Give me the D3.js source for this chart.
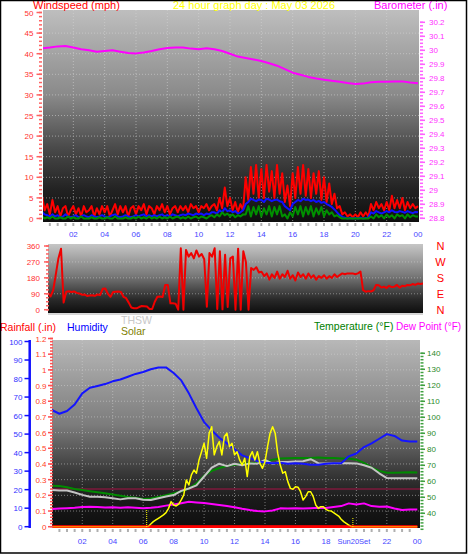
<!DOCTYPE html>
<html><head><meta charset="utf-8">
<script src="https://cdn.jsdelivr.net/npm/d3@7"></script>
<style>
body{margin:0;background:#fff}
svg{display:block}
text{font-family:"Liberation Sans",Arial,sans-serif}
</style>
</head><body>
<svg id="c" width="468" height="555"></svg>
<script>
// ---------------- DATA ----------------
const hourTicks = [2,4,6,8,10,12,14,16,18,20,22,24];
const hourLabels = ["02","04","06","08","10","12","14","16","18","20","22","00"];
const windTicks = [0,5,10,15,20,25,30,35,40,45,50];
const baroTicks = [28.8,28.9,29.0,29.1,29.2,29.3,29.4,29.5,29.6,29.7,29.8,29.9,30.0,30.1,30.2];
const dirTicks = [0,90,180,270,360];
const compassLabels = ["N","E","S","W","N"];
const humTicks = [0,10,20,30,40,50,60,70,80,90,100];
const rainTicks = [0,0.1,0.2,0.3,0.4,0.5,0.6,0.7,0.8,0.9,1.0,1.1,1.2];
const tempTicks = [40,50,60,70,80,90,100,110,120,130,140];
const sunriseHour = 6.23;
const sunsetHour = 19.77;
const refLineTemp = 55.2;

// 10-minute series (145 points, 00:00 .. 24:00)
const windGust = [
 5.5,2,3.5,1,4.5,1.5, 3,0.5,2.5,3,0.5,2, 3,1,2.5,0.5,3,1.5, 2,3,0.5,2.5,1,3,
 1.5,3,0.5,2,3.5,1, 3,1.5,3,0.5,2.5,3, 1,3,2,3.5,1,3, 2.5,1,3,2,3.5,1.5,
 3,1,2.5,3,1.5,3, 2,3,1.5,3.5,2.5,3, 1.5,3,2.5,3.5,2,3, 3.5,2,5,2.5,7.5,3,
 5,2,4,1.5,3.5,2, 10,4.5,12.5,6,13,5, 12,5,13,6.5,11.5,5, 13,6,11,4,8,3,
 11,5,12.5,6,13,5.5, 12,5,11,6,11.5,4.5, 10,4,8.5,3.5,6,2.5, 3,1,1.5,0.5,1,0.3,
 1,0.3,1.5,0.5,1.5,0.5, 3.5,2,4,2.5,3.5,2, 4,2,5.5,2.5,4.5,2.5, 5,2,4,2.5,3.5,2.5, 3];
const windAvg = [
 1.5,1,0.8,0.5,1,0.5, 0.8,0.3,0.5,1,0.5,0.3, 0.5,0.8,0.3,0.5,0.8,0.5, 0.3,0.8,0.5,0.3,0.5,0.8,
 0.5,0.3,0.5,0.8,1,0.5, 0.3,0.5,0.8,0.5,0.3,0.5, 0.8,0.5,0.8,1,0.5,0.8, 0.5,0.8,0.5,0.8,1,0.5,
 0.8,0.5,1,0.8,0.5,0.8, 1,0.8,1.2,1,0.8,1.2, 1,1.2,0.8,1.2,1,1.5, 1.5,1.2,2,1.5,2.5,1.8,
 2,1.5,1.8,1.2,1.5,2, 3.5,4,4.8,4.5,4.2,4.6, 4.5,4,4.8,4.6,4.2,4.5, 4.6,4.2,4,3,2.5,2,
 3.5,4,4.5,4.2,4.8,4.5, 4.6,4.2,4.5,4,4.3,3.8, 4,3.5,3.2,2.8,2.2,1.5, 0.8,0.4,0.2,0,0.1,0,
 0.1,0,0.2,0,0.1,0.2, 1.5,1.2,1.8,1.5,1.2,1.5, 1.8,1.5,2,1.6,1.5,1.8, 1.6,1.4,1.8,1.5,1.3,1.6, 1.5];
const windLow = [
 0.5,0,0.3,0,0.5,0, 0,0.3,0,0,0.5,0, 0.3,0,0,0.5,0,0, 0,0.3,0,0,0.3,0,
 0,0.3,0,0,0.5,0, 0,0,0.3,0,0,0.3, 0,0.5,0,0.3,0,0.5, 0,0.3,0,0.5,0,0.3,
 0,0.5,0,0.3,0.5,0, 0.3,0,0.5,0,0.3,0.5, 0,0.5,0.3,0,0.5,0.8, 0.3,1,0.5,1.5,0.8,1.2,
 0.5,1,0.3,0.8,0.5,1, 1,3,0.5,2.8,1,3, 0.5,2.5,1,3,0.5,2.8, 1,3,0.5,1,0,1.5,
 0.5,2.8,1,3,0.5,2.8, 1,3,0.5,2.5,1,2.8, 0.5,2,1,1.5,0.5,0.8, 0.3,0,0,0,0,0,
 0,0,0,0,0,0, 0.5,0,1,0.3,0.8,0, 1,0.3,0.8,0,1,0.5, 0.8,0,1,0.3,0.8,0.5, 0.5];
const windDir = [
 95,75,110,200,290,345, 40,102,104,100,103,95, 92,85,86,78,80,82, 78,86,83,118,120,90,
 73,100,102,103,100,73, 65,40,12,8,8,15, 21,20,18,4,4,45, 73,75,72,140,140,36,
 36,34,0,347,0,338, 300,320,290,335,300,315, 285,17,320,300,347,4, 330,2,310,15,290,300,
 0,345,0,330,270,0, 235,225,240,210,215,190, 205,170,200,180,215,175, 200,185,220,175,195,165,
 210,185,200,175,205,180, 195,170,190,180,195,175, 190,180,200,185,195,205, 200,205,205,205,200,205,
 215,110,102,105,103,110, 140,138,125,130,122,135, 128,130,140,125,135,132, 140,138,145,140,148,145, 148];
const solar = [
 0,0,0,0,0,0, 0,0,0,0,0,0, 0,0,0,0,0,0, 0,0,0,0,0,0,
 0,0,0,0,0,0, 0,0,0,0,0,0, 0,0,1,14,27,36, 45,54,63,75,98,134,
 116,111,121,143,170,250, 223,277,303,286,357,401, 446,366,500,535,384,428, 455,384,482,500,428,446,
 384,401,357,330,366,268, 375,401,357,401,339,312, 348,428,500,535,500,393, 330,286,294,241,205,200,
 214,211,187,143,161,187, 187,161,116,98,107,107, 93,86,84,75,66,57, 40,27,18,9,0,0,
 0,0,0,0,0,0, 0,0,0,0,0,0, 0,0,0,0,0,0, 0,0,0,0,0,0, 0];

// 30-minute series (49 points, 00:00 .. 24:00)
const barometer = [30.014,30.02,30.028,30.03,30.02,30.007,30.0,29.99,29.995,30.0,29.99,29.98,
 29.978,29.985,29.995,30.008,30.016,30.02,30.02,30.012,30.008,30.014,30.008,29.995,
 29.975,29.955,29.945,29.935,29.924,29.908,29.89,29.865,29.84,29.825,29.81,29.798,
 29.79,29.782,29.776,29.766,29.76,29.762,29.772,29.775,29.776,29.778,29.778,29.77,29.765];
const humidity = [63,61,62.5,66,72,75,76,77,78.5,79.5,81,82.5,83.5,85,86,86,83,79,72,64,56.5,52,48,45,
 41.8,38.5,37,35.5,34.6,34.2,34.5,34,34.2,34,33.5,33.5,34,34.2,34.2,38,39.5,43,45,47.5,50,49,46.5,46,46];
const temperature = [57.3,57,56.3,55.2,54.5,53.8,53.2,52.5,51.8,51,50.2,49.7,49,49.2,50.2,51.3,52.5,53.6,
 55.5,58.7,63.5,66.5,68.3,69.5,70.3,70.8,71.3,71.5,72,73.5,74.2,74.4,74.5,74.5,74.5,74.8,
 74.5,74.5,74.3,74.3,73.5,71.5,68.5,66.5,65.3,65.4,65.5,65.7,65.5];
const thsw = [54.6,54.3,54.2,53,51.5,50.4,50.4,50,49.4,48.7,49.4,49.4,48.5,48.3,49.4,50.5,51.4,54,
 55.5,57.5,63,68.5,71,69.5,71,70,71.2,71,73.3,71,72,72,72.3,72.5,73.8,71.3,
 71.2,71.2,71.3,71.3,71.2,70,68.5,65,62,61.9,61.9,61.9,61.9];
const dewPoint = [42.7,43,43.2,43.5,44,44.1,44,43.7,43.8,43.5,43.8,43.5,43.2,43.5,44,44.8,45.5,46.3,
 47.2,46.8,46.5,45.8,45.2,44.5,43.8,42.8,42,41.4,41.2,41.8,43.1,43,43.1,43,43.2,43.5,
 43.3,44,44.5,46.2,45.5,46.2,44.5,44.1,44.2,43,42,42.3,42.3];
const rainfall = [0,0,0,0,0,0,0,0,0,0,0,0,0,0,0,0,0,0,0,0,0,0,0,0,0,0,0,0,0,0,0,0,0,0,0,0,0,0,0,0,0,0,0,0,0,0,0,0,0];

const tenMin = d3.range(145).map(i => i / 6);
const halfHour = d3.range(49).map(i => i / 2);

// ---------------- DRAW ----------------
const svg = d3.select("#c");
const defs = svg.append("defs");
function grad(id, stops){
  const g = defs.append("linearGradient").attr("id", id).attr("x1",0).attr("y1",0).attr("x2",0).attr("y2",1);
  stops.forEach(([o,c]) => g.append("stop").attr("offset", o).attr("stop-color", c));
}
grad("gTop", [[0,"#bebebe"],[0.4,"#8a8a8a"],[0.65,"#4a4a4a"],[0.85,"#222"],[1,"#0e0e0e"]]);
grad("gMid", [[0,"#c6c6c6"],[0.45,"#7a7a7a"],[0.8,"#2a2a2a"],[1,"#0e0e0e"]]);
grad("gBot", [[0,"#b8b8b8"],[0.45,"#7c7c7c"],[0.7,"#3a3a3a"],[0.85,"#1a1a1a"],[1,"#0e0e0e"]]);

function clip(id, x, y, w, h){
  defs.append("clipPath").attr("id", id).append("rect").attr("x",x).attr("y",y).attr("width",w).attr("height",h);
}
const P = {
  top: {x:43, y:10, w:376, h:212},
  mid: {x:48, y:244, w:375, h:69},
  bot: {x:52, y:340, w:368, h:188}
};
clip("cTop", P.top.x, P.top.y, P.top.w, P.top.h);
clip("cMid", P.mid.x, P.mid.y, P.mid.w, P.mid.h);
clip("cBot", P.bot.x, P.bot.y, P.bot.w, P.bot.h);

function txt(x, y, s, color, size, anchor){
  return svg.append("text").attr("x", x).attr("y", y).text(s)
    .attr("fill", color).attr("font-size", size).attr("text-anchor", anchor || "start");
}
function hline(g, x1, x2, y, color, w, dash){
  const l = g.append("line").attr("x1",x1).attr("x2",x2).attr("y1",y).attr("y2",y)
    .attr("stroke",color).attr("stroke-width",w);
  if (dash) l.attr("stroke-dasharray", dash);
  return l;
}
function vline(g, x, y1, y2, color, w, dash){
  const l = g.append("line").attr("x1",x).attr("x2",x).attr("y1",y1).attr("y2",y2)
    .attr("stroke",color).attr("stroke-width",w);
  if (dash) l.attr("stroke-dasharray", dash);
  return l;
}
function path(g, xs, ys, times, vals, color, w){
  const ln = d3.line().x((d,i) => xs(times[i])).y(d => ys(d));
  return g.append("path").attr("d", ln(vals)).attr("fill","none")
    .attr("stroke", color).attr("stroke-width", w).attr("stroke-linejoin","round");
}

// ---- Top panel ----
const xTop = d3.scaleLinear([0,24],[42,418]);
const yWind = d3.scaleLinear([0,50],[218.5,12.5]);
const yBaro = d3.scaleLinear([28.8,30.2],[218.3,22.3]);

svg.append("rect").attr("x",P.top.x).attr("y",P.top.y).attr("width",P.top.w).attr("height",P.top.h).attr("fill","url(#gTop)");
const gTopGrid = svg.append("g").attr("opacity",0.55);
hourTicks.slice(0,-1).forEach(h => vline(gTopGrid, xTop(h), P.top.y, P.top.y+P.top.h, "#d8d8d8", 1, "1,2"));
windTicks.slice(1,-1).forEach(v => hline(gTopGrid, P.top.x, P.top.x+P.top.w, yWind(v), "#d8d8d8", 1, "1,2"));

const gTopData = svg.append("g").attr("clip-path","url(#cTop)");
path(gTopData, xTop, yBaro, halfHour, barometer, "#ff00ff", 2);
path(gTopData, xTop, yWind, tenMin, windGust, "#ff0000", 2);
path(gTopData, xTop, yWind, tenMin, windAvg, "#1010ff", 2);
path(gTopData, xTop, yWind, tenMin, windLow, "#009000", 2);

// left wind axis
d3.range(0, 51, 1).forEach(v => hline(svg, 39, 42, yWind(v), "#ff6060", 1.5));
windTicks.forEach(v => {
  hline(svg, 36.5, 42, yWind(v), "#ff6060", 1.5);
  txt(33.5, yWind(v)+3, String(v), "#ff3030", 8, "end");
});
// right barometer axis
d3.range(0, 57).forEach(i => hline(svg, 420, 423, yBaro(28.8 + i*0.025), "#ff60ff", 1.5));
baroTicks.forEach(v => {
  hline(svg, 420, 425, yBaro(v), "#ff60ff", 1.5);
  txt(429, yBaro(v)+3, String(+v.toFixed(1)), "#ff30ff", 8, "start");
});
// x ticks + labels
d3.range(1, 48).forEach(i => vline(svg, xTop(i/2), 223, 226, "#b0b0b0", 2));
hourTicks.forEach((h,i) => txt(xTop(h), 237, hourLabels[i], "#4646ff", 8, "middle"));

// titles
txt(33, 9, "Windspeed (mph)", "#ff0000", 11);
txt(173, 9, "24 hour graph day : May 03 2026", "#ffff00", 11);
txt(374, 9, "Barometer (.in)", "#ff00ff", 11);

// ---- Middle panel ----
const xMid = d3.scaleLinear([0,24],[48,423]);
const yDir = d3.scaleLinear([0,360],[309.7,246]);
svg.append("rect").attr("x",P.mid.x).attr("y",P.mid.y).attr("width",P.mid.w).attr("height",P.mid.h).attr("fill","url(#gMid)");
const gMidGrid = svg.append("g").attr("opacity",0.45);
dirTicks.slice(1,-1).forEach(v => hline(gMidGrid, P.mid.x, P.mid.x+P.mid.w, yDir(v), "#e0e0e0", 1, "1,2"));
hline(svg, P.mid.x, P.mid.x+P.mid.w, 314, "#c8c8c8", 1.5);
const gMidData = svg.append("g").attr("clip-path","url(#cMid)");
path(gMidData, xMid, yDir, tenMin, windDir, "#f00000", 2);
d3.range(0, 17).forEach(i => hline(svg, 46, 49, yDir(i*22.5), "#ff6060", 1.5));
dirTicks.forEach((v,i) => {
  hline(svg, 44, 49, yDir(v), "#ff6060", 1.5);
  txt(40, yDir(v)+3, String(v), "#ff3030", 8, "end");
  txt(440.5, yDir(v)+4, compassLabels[i], "#ff0000", 11, "middle");
});

// ---- Bottom panel ----
const xBot = d3.scaleLinear([0,24],[51.8,417.3]);
const yHum = d3.scaleLinear([0,100],[526.7,341.5]);
const yRain = d3.scaleLinear([0,1.2],[526.7,338.5]);
const yTemp = d3.scaleLinear([30,140],[529.3,353.3]);
const ySolar = d3.scaleLinear([0,1000],[526.7,339.7]);

svg.append("rect").attr("x",P.bot.x).attr("y",P.bot.y).attr("width",P.bot.w).attr("height",P.bot.h).attr("fill","url(#gBot)");
const gBotGrid = svg.append("g").attr("opacity",0.5);
hourTicks.slice(0,-1).forEach(h => vline(gBotGrid, xBot(h), P.bot.y, P.bot.y+P.bot.h, "#d8d8d8", 1, "1,2"));
rainTicks.slice(1,-1).forEach(v => hline(gBotGrid, P.bot.x, P.bot.x+P.bot.w, yRain(v), "#d8d8d8", 1, "1,2"));

const gBotData = svg.append("g").attr("clip-path","url(#cBot)");
hline(gBotData, P.bot.x, P.bot.x+P.bot.w, yTemp(refLineTemp), "#7e1a3c", 1.5);
path(gBotData, xBot, yTemp, halfHour, dewPoint, "#ff00ff", 2);
path(gBotData, xBot, yTemp, halfHour, temperature, "#008a00", 2);
path(gBotData, xBot, yTemp, halfHour, thsw, "#c4c4c4", 2);
path(gBotData, xBot, yHum, halfHour, humidity, "#1414ff", 2);
path(gBotData, xBot, yRain, halfHour, rainfall, "#ff0000", 3);
path(gBotData, xBot, ySolar, tenMin, solar, "#ffff00", 1.5);
path(gBotData, xBot, yRain, halfHour, rainfall, "#ff0000", 3).attr("opacity", 0.5);
vline(svg, xBot(sunriseHour), 510, 527, "#ffff00", 1, "1,1");
vline(svg, xBot(sunsetHour), 518, 527, "#ffff00", 1, "1,1");

// humidity axis (blue)
vline(svg, 29.7, 340, 528, "#1010ff", 2.5);
humTicks.forEach(v => {
  hline(svg, 24.5, 30, yHum(v), "#1010ff", 1.5);
  txt(22.5, yHum(v)+3, String(v), "#3030ff", 8, "end");
});
// rain axis (red)
d3.range(0, 61).forEach(i => hline(svg, 50, 53, yRain(i*0.02), "#ff5050", 1.5));
rainTicks.forEach(v => {
  hline(svg, 48, 53, yRain(v), "#ff5050", 1.5);
  txt(46.5, yRain(v)+3, String(+v.toFixed(1)), "#ff3c1e", 8, "end");
});
// temperature axis (green)
d3.range(0, 56).forEach(i => hline(svg, 420.5, 423.5, yTemp(30 + i*2), "#40a040", 1.5));
tempTicks.forEach(v => {
  hline(svg, 420.5, 425, yTemp(v), "#40a040", 1.5);
  txt(427, yTemp(v)+3, String(v), "#2a8a2a", 8, "start");
});
// x ticks + labels (the "20" label merges with the sunset marker text)
d3.range(1, 48).forEach(i => vline(svg, xBot(i/2), 529, 532, "#b0b0b0", 2));
hourTicks.forEach((h,i) => {
  if (h === 20) txt(xBot(sunsetHour) + 1, 543.5, "Sun" + hourLabels[i] + "Set", "#4646ff", 7.5, "middle");
  else txt(xBot(h), 543.5, hourLabels[i], "#4646ff", 8, "middle");
});

// legends
txt(0, 331, "Rainfall (.in)", "#ff0000", 10.5);
txt(67, 331, "Humidity", "#0000ff", 10.5);
txt(121, 324, "THSW", "#c8c8c8", 10.5);
txt(121, 335, "Solar", "#808000", 10.5);
txt(314, 330, "Temperature (°F)", "#008000", 10.5);
txt(396, 330, "Dew Point (°F)", "#ff00ff", 10);

// outer border
svg.append("rect").attr("x",0.5).attr("y",0.5).attr("width",466).attr("height",552.5)
  .attr("fill","none").attr("stroke","#000").attr("stroke-width",1.5);
</script>
</body></html>
